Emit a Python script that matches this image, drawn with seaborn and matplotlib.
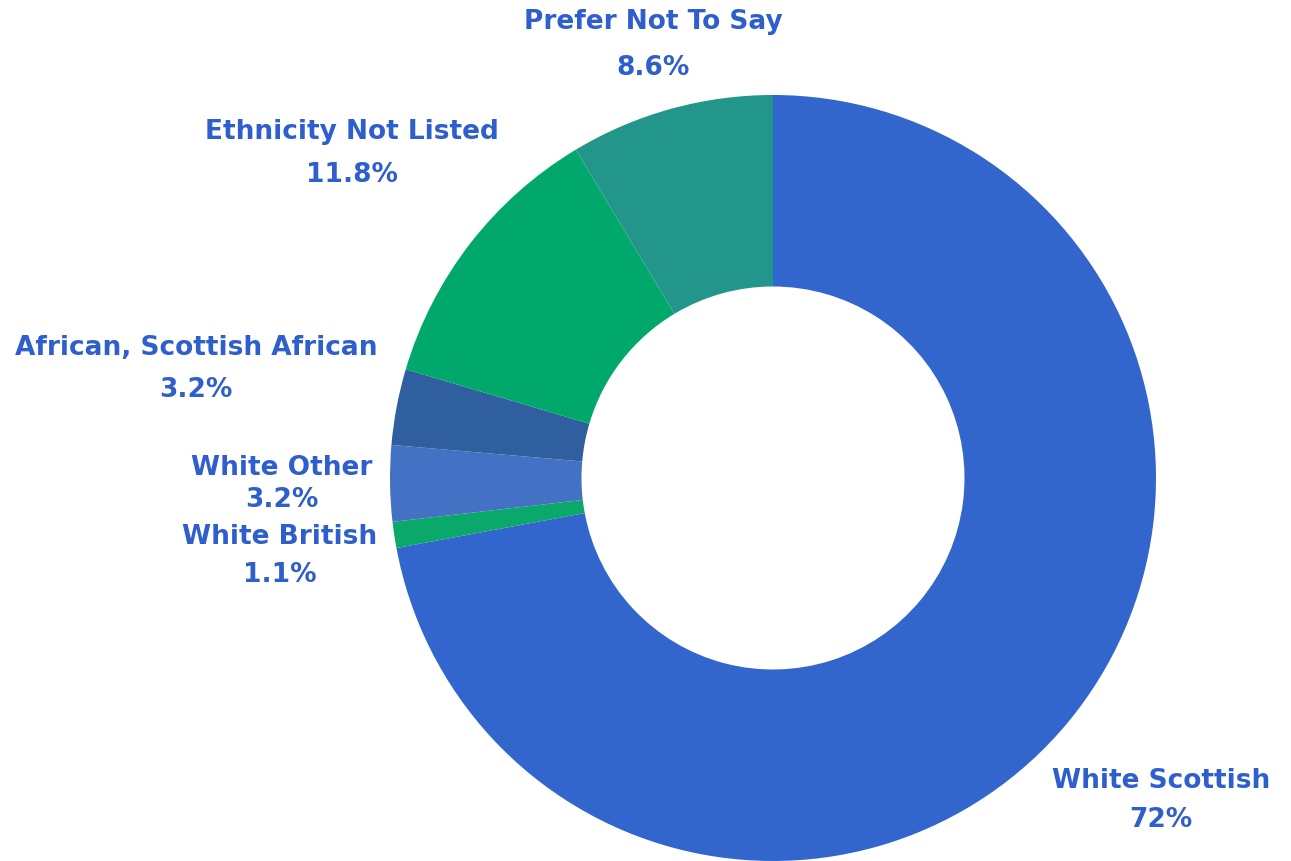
import matplotlib
matplotlib.use("Agg")
import matplotlib.pyplot as plt
import seaborn as sns

# Survey responses by ethnicity (percent)
categories = ["White Scottish", "White British", "White Other",
              "African, Scottish African", "Ethnicity Not Listed", "Prefer Not To Say"]
values = [72.0, 1.1, 3.2, 3.2, 11.8, 8.6]
value_labels = ["72%", "1.1%", "3.2%", "3.2%", "11.8%", "8.6%"]

slice_colors = ["#3366cc", "#0aa86a", "#4372c4", "#2f5f9e", "#00a86b", "#22968a"]
text_color = "#2f5fcc"

# label anchor points in pixel space (centre x, name line y, value line y)
label_pos = {
    "White Scottish": (1161, 781, 820),
    "White British": (280, 537, 575),
    "White Other": (282, 468, 500),
    "African, Scottish African": (196, 348, 390),
    "Ethnicity Not Listed": (352, 132, 175),
    "Prefer Not To Say": (653, 22, 68),
}

sns.set_theme(style="white")
plt.rcParams["font.family"] = ["DejaVu Sans"]

W, H = 1291, 861
cx, cy, R = 773, 478, 383

fig = plt.figure(figsize=(W / 100, H / 100), dpi=100, facecolor="white")
ax = fig.add_axes([0, 0, 1, 1])
ax.set_facecolor("white")

ax.pie(values, colors=slice_colors, startangle=90, counterclock=False,
       radius=1.0, wedgeprops=dict(width=0.5, linewidth=0))

ax.set_xlim(-cx / R, (W - cx) / R)
ax.set_ylim((cy - H) / R, cy / R)
ax.set_aspect("equal")
ax.axis("off")


def to_data(px, py):
    return (px - cx) / R, (cy - py) / R


for name, pct in zip(categories, value_labels):
    x, y1, y2 = label_pos[name]
    dx, dy1 = to_data(x, y1)
    _, dy2 = to_data(x, y2)
    ax.text(dx, dy1, name, ha="center", va="center", fontsize=19,
            fontweight="bold", color=text_color)
    ax.text(dx, dy2, pct, ha="center", va="center", fontsize=19,
            fontweight="bold", color=text_color)

fig.savefig("out.png", dpi=100, facecolor="white")
